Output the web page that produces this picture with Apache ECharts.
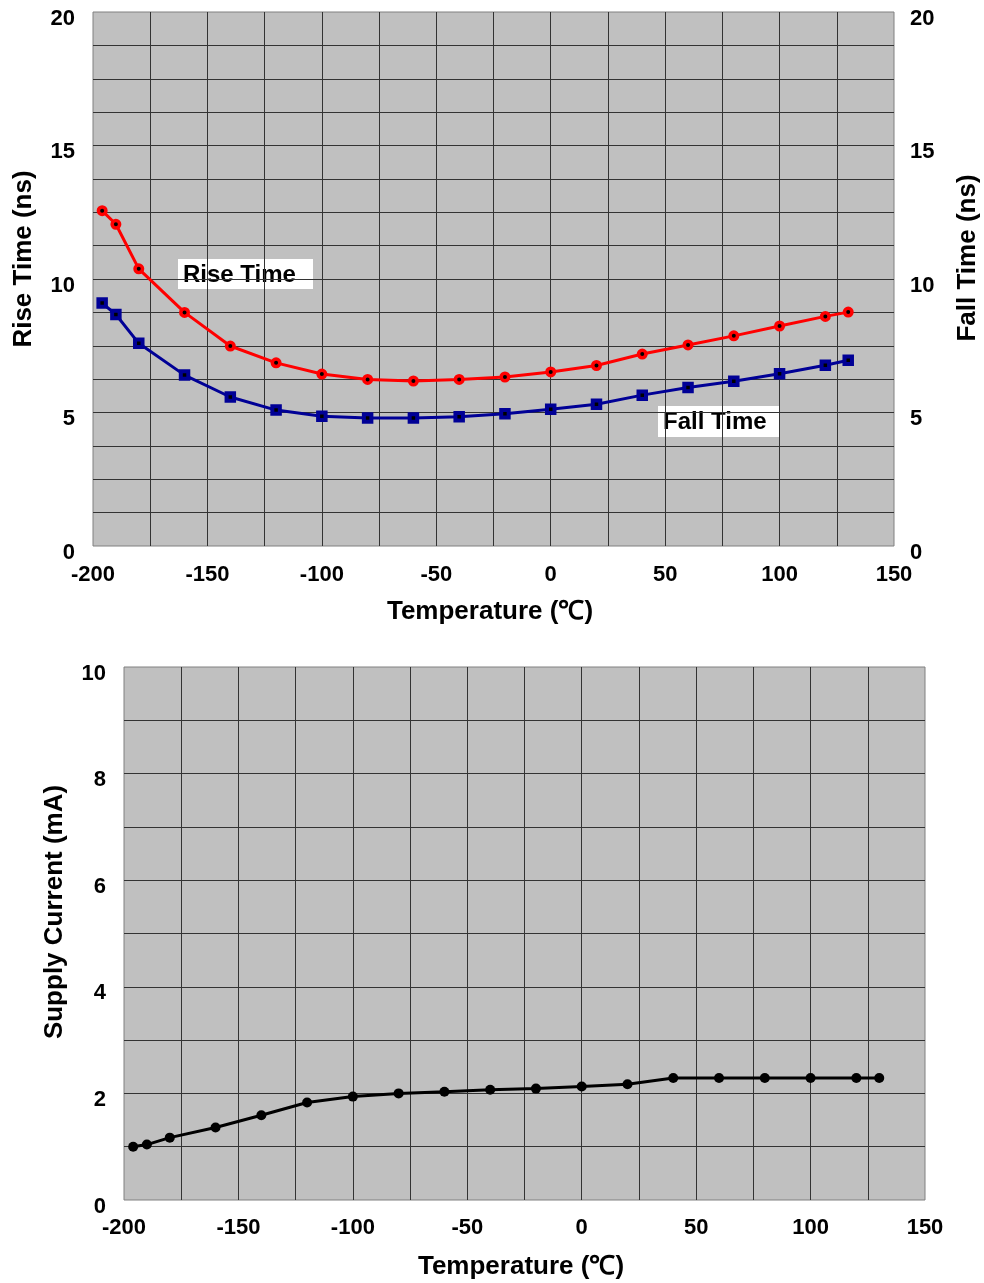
<!DOCTYPE html>
<html>
<head>
<meta charset="utf-8">
<script src="https://cdn.jsdelivr.net/npm/echarts@6/dist/echarts.min.js"></script>
<style>
  html, body { margin: 0; padding: 0; background: #fff; }
  #chart { width: 984px; height: 1283px; }
</style>
</head>
<body>
<div id="chart"></div>
<script>
// temperatures (°C) where both plots were measured
const temps = [-196, -190, -180, -160, -140, -120, -100, -80, -60, -40, -20, 0, 20, 40, 60, 80, 100, 120, 130];
const riseTime = [12.56, 12.05, 10.38, 8.75, 7.49, 6.86, 6.44, 6.24, 6.18, 6.24, 6.33, 6.52, 6.76, 7.19, 7.53, 7.87, 8.24, 8.60, 8.76];
const fallTime = [9.10, 8.67, 7.59, 6.40, 5.58, 5.09, 4.86, 4.79, 4.79, 4.84, 4.95, 5.12, 5.31, 5.65, 5.94, 6.17, 6.45, 6.77, 6.96];
const supplyCurrent = [1.00, 1.04, 1.17, 1.36, 1.59, 1.83, 1.94, 2.00, 2.03, 2.07, 2.09, 2.13, 2.17, 2.29, 2.29, 2.29, 2.29, 2.29, 2.29];

const xTickLabels = [-200, -150, -100, -50, 0, 50, 100, 150];
const timeTickLabels = [0, 5, 10, 15, 20];
const currentTickLabels = [0, 2, 4, 6, 8, 10];

const FONT = '"Liberation Sans", Arial, sans-serif';
const GRID_LINE = '#333';

const pairs = (ys) => temps.map((t, i) => [t, ys[i]]);
const isIn = (list, v) => list.indexOf(Math.round(v * 1000) / 1000) >= 0;

const labelStyle = { color: '#000', fontFamily: FONT, fontWeight: 'bold', fontSize: 22 };

const xAxisBase = (gridIndex, margin) => ({
  type: 'value', gridIndex: gridIndex, min: -200, max: 150, interval: 25,
  axisLine: { show: false }, axisTick: { show: false },
  axisLabel: Object.assign({
    margin: margin, showMinLabel: true, showMaxLabel: true,
    formatter: (v) => (isIn(xTickLabels, v) ? String(v) : '')
  }, labelStyle),
  splitLine: { show: true, showMinLine: false, showMaxLine: false, lineStyle: { color: GRID_LINE, width: 1 } }
});

// y labels sit a few pixels below their grid line in the original
const yAxisBase = (gridIndex, max, interval, list, position, margin, split) => ({
  type: 'value', gridIndex: gridIndex, min: 0, max: max, interval: interval, position: position,
  axisLine: { show: false }, axisTick: { show: false },
  axisLabel: Object.assign({
    margin: margin,
    formatter: (v) => (isIn(list, v) ? '{v|' + v + '}' : ''),
    rich: { v: Object.assign({ padding: [13, 0, 0, 0] }, labelStyle) }
  }, labelStyle),
  splitLine: { show: split, showMinLine: false, showMaxLine: false, lineStyle: { color: GRID_LINE, width: 1 } }
});

const titleText = (text, x, y, rotated) => ({
  type: 'text', x: x, y: y, rotation: rotated ? Math.PI / 2 : 0, z: 10,
  style: { text: text, fill: '#000', font: 'bold 26px ' + FONT, align: 'center', verticalAlign: 'middle' }
});

const noteBox = (text, x, y, w, h) => ({
  type: 'group', x: x, y: y, z: 20,
  children: [
    { type: 'rect', shape: { x: 0, y: 0, width: w, height: h }, style: { fill: '#fff' } },
    { type: 'text', x: 5, y: h / 2 + 1, style: { text: text, fill: '#000', font: 'bold 24px ' + FONT, align: 'left', verticalAlign: 'middle' } }
  ]
});

const chart = echarts.init(document.getElementById('chart'), null, { renderer: 'canvas' });

const option = {
  animation: false,
  backgroundColor: '#fff',
  grid: [
    { left: 93, top: 12, width: 801, height: 534, show: true, backgroundColor: '#c0c0c0', borderColor: '#808080', borderWidth: 1 },
    { left: 124, top: 667, width: 801, height: 533, show: true, backgroundColor: '#c0c0c0', borderColor: '#808080', borderWidth: 1 }
  ],
  xAxis: [xAxisBase(0, 18), xAxisBase(1, 17)],
  yAxis: [
    yAxisBase(0, 20, 1.25, timeTickLabels, 'left', 18, true),
    yAxisBase(0, 20, 1.25, timeTickLabels, 'right', 16, false),
    yAxisBase(1, 10, 1, currentTickLabels, 'left', 18, true)
  ],
  series: [
    {
      name: 'Rise Time', type: 'line', xAxisIndex: 0, yAxisIndex: 0,
      data: pairs(riseTime),
      symbol: 'circle', symbolSize: 7.5,
      lineStyle: { color: '#ff0000', width: 3 },
      itemStyle: { color: '#000', borderColor: '#ff0000', borderWidth: 3.5 },
      z: 3
    },
    {
      name: 'Fall Time', type: 'line', xAxisIndex: 0, yAxisIndex: 0,
      data: pairs(fallTime),
      symbol: 'rect', symbolSize: 7.5,
      lineStyle: { color: '#000096', width: 3 },
      itemStyle: { color: '#000', borderColor: '#000096', borderWidth: 4 },
      z: 3
    },
    {
      name: 'Supply Current', type: 'line', xAxisIndex: 1, yAxisIndex: 2,
      data: pairs(supplyCurrent),
      symbol: 'circle', symbolSize: 10,
      lineStyle: { color: '#000', width: 3 },
      itemStyle: { color: '#000' },
      z: 3
    }
  ],
  graphic: [
    titleText('Rise Time (ns)', 24, 259, true),
    titleText('Fall Time (ns)', 968, 258, true),
    titleText('Temperature (\u2103)', 490, 612, false),
    titleText('Supply Current (mA)', 55, 912, true),
    titleText('Temperature (\u2103)', 521, 1267, false),
    noteBox('Rise Time', 178, 259, 135, 30),
    noteBox('Fall Time', 658, 406, 122, 31)
  ]
};

chart.setOption(option);
</script>
</body>
</html>
